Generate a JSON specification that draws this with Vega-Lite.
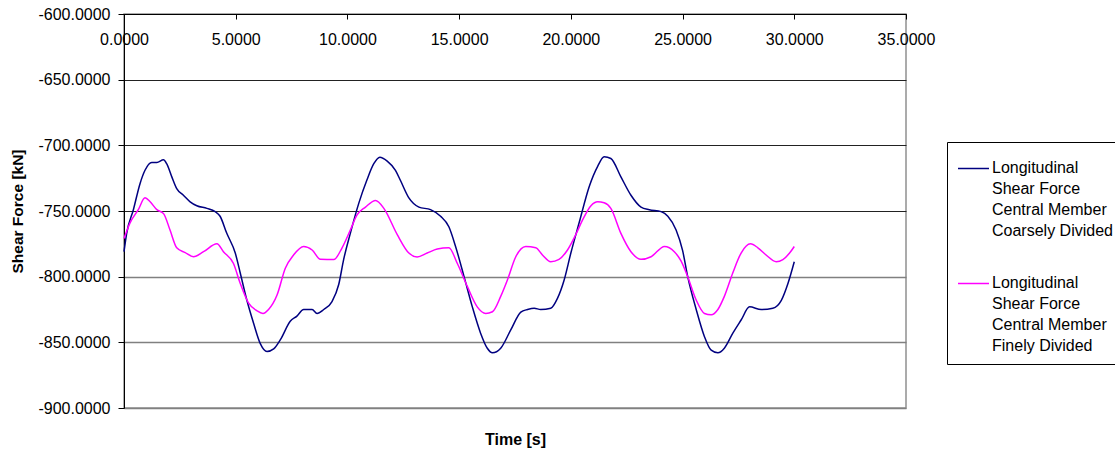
{
  "$schema": "https://vega.github.io/schema/vega-lite/v6.json",
  "width": 782,
  "height": 394,
  "autosize": "none",
  "padding": {"left": 124, "top": 14, "right": 209, "bottom": 41},
  "background": "white",
  "data": {
    "values": [
      {"t": 0, "v": -781, "series": "Coarsely Divided"},
      {"t": 0.12, "v": -767, "series": "Coarsely Divided"},
      {"t": 0.42, "v": -749, "series": "Coarsely Divided"},
      {"t": 0.72, "v": -729, "series": "Coarsely Divided"},
      {"t": 0.94, "v": -719, "series": "Coarsely Divided"},
      {"t": 1.24, "v": -713, "series": "Coarsely Divided"},
      {"t": 1.47, "v": -713, "series": "Coarsely Divided"},
      {"t": 1.77, "v": -711, "series": "Coarsely Divided"},
      {"t": 1.91, "v": -714, "series": "Coarsely Divided"},
      {"t": 2.14, "v": -724, "series": "Coarsely Divided"},
      {"t": 2.36, "v": -733, "series": "Coarsely Divided"},
      {"t": 2.66, "v": -738, "series": "Coarsely Divided"},
      {"t": 2.96, "v": -743, "series": "Coarsely Divided"},
      {"t": 3.26, "v": -746, "series": "Coarsely Divided"},
      {"t": 3.71, "v": -748, "series": "Coarsely Divided"},
      {"t": 4.08, "v": -750.5, "series": "Coarsely Divided"},
      {"t": 4.3, "v": -754, "series": "Coarsely Divided"},
      {"t": 4.6, "v": -767, "series": "Coarsely Divided"},
      {"t": 4.98, "v": -782, "series": "Coarsely Divided"},
      {"t": 5.2, "v": -797, "series": "Coarsely Divided"},
      {"t": 5.5, "v": -818, "series": "Coarsely Divided"},
      {"t": 5.8, "v": -835.5, "series": "Coarsely Divided"},
      {"t": 6.1, "v": -851, "series": "Coarsely Divided"},
      {"t": 6.4, "v": -857, "series": "Coarsely Divided"},
      {"t": 6.7, "v": -855, "series": "Coarsely Divided"},
      {"t": 7.0, "v": -848, "series": "Coarsely Divided"},
      {"t": 7.44, "v": -834, "series": "Coarsely Divided"},
      {"t": 7.74, "v": -830, "series": "Coarsely Divided"},
      {"t": 8.04, "v": -825, "series": "Coarsely Divided"},
      {"t": 8.42, "v": -825, "series": "Coarsely Divided"},
      {"t": 8.64, "v": -828, "series": "Coarsely Divided"},
      {"t": 8.94, "v": -825, "series": "Coarsely Divided"},
      {"t": 9.31, "v": -819, "series": "Coarsely Divided"},
      {"t": 9.61, "v": -806, "series": "Coarsely Divided"},
      {"t": 9.83, "v": -787, "series": "Coarsely Divided"},
      {"t": 10.13, "v": -767, "series": "Coarsely Divided"},
      {"t": 10.51, "v": -744, "series": "Coarsely Divided"},
      {"t": 10.88, "v": -726, "series": "Coarsely Divided"},
      {"t": 11.18, "v": -714, "series": "Coarsely Divided"},
      {"t": 11.45, "v": -709, "series": "Coarsely Divided"},
      {"t": 11.78, "v": -712, "series": "Coarsely Divided"},
      {"t": 12.15, "v": -719, "series": "Coarsely Divided"},
      {"t": 12.38, "v": -727, "series": "Coarsely Divided"},
      {"t": 12.75, "v": -740, "series": "Coarsely Divided"},
      {"t": 13.2, "v": -747, "series": "Coarsely Divided"},
      {"t": 13.72, "v": -749, "series": "Coarsely Divided"},
      {"t": 14.17, "v": -754, "series": "Coarsely Divided"},
      {"t": 14.54, "v": -762, "series": "Coarsely Divided"},
      {"t": 14.84, "v": -777, "series": "Coarsely Divided"},
      {"t": 15.22, "v": -800, "series": "Coarsely Divided"},
      {"t": 15.59, "v": -823, "series": "Coarsely Divided"},
      {"t": 15.96, "v": -843, "series": "Coarsely Divided"},
      {"t": 16.26, "v": -854.5, "series": "Coarsely Divided"},
      {"t": 16.49, "v": -858, "series": "Coarsely Divided"},
      {"t": 16.86, "v": -854.5, "series": "Coarsely Divided"},
      {"t": 17.31, "v": -840.6, "series": "Coarsely Divided"},
      {"t": 17.76, "v": -827, "series": "Coarsely Divided"},
      {"t": 18.06, "v": -825, "series": "Coarsely Divided"},
      {"t": 18.36, "v": -824, "series": "Coarsely Divided"},
      {"t": 18.65, "v": -825, "series": "Coarsely Divided"},
      {"t": 19.1, "v": -824, "series": "Coarsely Divided"},
      {"t": 19.4, "v": -816.5, "series": "Coarsely Divided"},
      {"t": 19.7, "v": -802.5, "series": "Coarsely Divided"},
      {"t": 20.0, "v": -782, "series": "Coarsely Divided"},
      {"t": 20.37, "v": -759, "series": "Coarsely Divided"},
      {"t": 20.82, "v": -731.5, "series": "Coarsely Divided"},
      {"t": 21.2, "v": -716, "series": "Coarsely Divided"},
      {"t": 21.49, "v": -708.7, "series": "Coarsely Divided"},
      {"t": 21.79, "v": -710, "series": "Coarsely Divided"},
      {"t": 22.24, "v": -724, "series": "Coarsely Divided"},
      {"t": 22.69, "v": -738, "series": "Coarsely Divided"},
      {"t": 23.14, "v": -747, "series": "Coarsely Divided"},
      {"t": 23.51, "v": -749, "series": "Coarsely Divided"},
      {"t": 24.04, "v": -750.5, "series": "Coarsely Divided"},
      {"t": 24.34, "v": -754, "series": "Coarsely Divided"},
      {"t": 24.71, "v": -764.5, "series": "Coarsely Divided"},
      {"t": 25.0, "v": -780, "series": "Coarsely Divided"},
      {"t": 25.23, "v": -800, "series": "Coarsely Divided"},
      {"t": 25.61, "v": -825, "series": "Coarsely Divided"},
      {"t": 25.98, "v": -845.7, "series": "Coarsely Divided"},
      {"t": 26.28, "v": -856, "series": "Coarsely Divided"},
      {"t": 26.58, "v": -858, "series": "Coarsely Divided"},
      {"t": 26.87, "v": -854.5, "series": "Coarsely Divided"},
      {"t": 27.25, "v": -843, "series": "Coarsely Divided"},
      {"t": 27.62, "v": -833, "series": "Coarsely Divided"},
      {"t": 28.0, "v": -823, "series": "Coarsely Divided"},
      {"t": 28.52, "v": -825, "series": "Coarsely Divided"},
      {"t": 29.04, "v": -824, "series": "Coarsely Divided"},
      {"t": 29.42, "v": -818, "series": "Coarsely Divided"},
      {"t": 29.72, "v": -805, "series": "Coarsely Divided"},
      {"t": 30.0, "v": -788.6, "series": "Coarsely Divided"},
      {"t": 0, "v": -771, "series": "Finely Divided"},
      {"t": 0.27, "v": -759, "series": "Finely Divided"},
      {"t": 0.64, "v": -749, "series": "Finely Divided"},
      {"t": 0.94, "v": -740, "series": "Finely Divided"},
      {"t": 1.17, "v": -743, "series": "Finely Divided"},
      {"t": 1.47, "v": -749, "series": "Finely Divided"},
      {"t": 1.77, "v": -752, "series": "Finely Divided"},
      {"t": 2.06, "v": -764.5, "series": "Finely Divided"},
      {"t": 2.36, "v": -778, "series": "Finely Divided"},
      {"t": 2.74, "v": -781.7, "series": "Finely Divided"},
      {"t": 3.11, "v": -784.8, "series": "Finely Divided"},
      {"t": 3.56, "v": -781, "series": "Finely Divided"},
      {"t": 4.16, "v": -775, "series": "Finely Divided"},
      {"t": 4.45, "v": -781, "series": "Finely Divided"},
      {"t": 4.9, "v": -790, "series": "Finely Divided"},
      {"t": 5.2, "v": -805, "series": "Finely Divided"},
      {"t": 5.57, "v": -820, "series": "Finely Divided"},
      {"t": 5.95, "v": -826, "series": "Finely Divided"},
      {"t": 6.22, "v": -828, "series": "Finely Divided"},
      {"t": 6.47, "v": -825, "series": "Finely Divided"},
      {"t": 6.85, "v": -814, "series": "Finely Divided"},
      {"t": 7.22, "v": -793.6, "series": "Finely Divided"},
      {"t": 7.59, "v": -783.5, "series": "Finely Divided"},
      {"t": 8.04, "v": -777, "series": "Finely Divided"},
      {"t": 8.42, "v": -779.7, "series": "Finely Divided"},
      {"t": 8.79, "v": -786.8, "series": "Finely Divided"},
      {"t": 9.39, "v": -787, "series": "Finely Divided"},
      {"t": 9.76, "v": -778, "series": "Finely Divided"},
      {"t": 10.13, "v": -764.5, "series": "Finely Divided"},
      {"t": 10.43, "v": -753, "series": "Finely Divided"},
      {"t": 10.81, "v": -747, "series": "Finely Divided"},
      {"t": 11.26, "v": -742, "series": "Finely Divided"},
      {"t": 11.63, "v": -748, "series": "Finely Divided"},
      {"t": 12.23, "v": -768, "series": "Finely Divided"},
      {"t": 12.75, "v": -782, "series": "Finely Divided"},
      {"t": 13.12, "v": -785, "series": "Finely Divided"},
      {"t": 13.57, "v": -782, "series": "Finely Divided"},
      {"t": 14.02, "v": -779, "series": "Finely Divided"},
      {"t": 14.54, "v": -778, "series": "Finely Divided"},
      {"t": 14.92, "v": -790, "series": "Finely Divided"},
      {"t": 15.37, "v": -807.6, "series": "Finely Divided"},
      {"t": 15.81, "v": -823, "series": "Finely Divided"},
      {"t": 16.19, "v": -828, "series": "Finely Divided"},
      {"t": 16.49, "v": -826.7, "series": "Finely Divided"},
      {"t": 16.86, "v": -815, "series": "Finely Divided"},
      {"t": 17.16, "v": -802.5, "series": "Finely Divided"},
      {"t": 17.53, "v": -785, "series": "Finely Divided"},
      {"t": 17.98, "v": -777, "series": "Finely Divided"},
      {"t": 18.43, "v": -778, "series": "Finely Divided"},
      {"t": 18.73, "v": -783.5, "series": "Finely Divided"},
      {"t": 19.1, "v": -788.6, "series": "Finely Divided"},
      {"t": 19.47, "v": -786.8, "series": "Finely Divided"},
      {"t": 19.85, "v": -779.7, "series": "Finely Divided"},
      {"t": 20.22, "v": -768, "series": "Finely Divided"},
      {"t": 20.52, "v": -757, "series": "Finely Divided"},
      {"t": 20.9, "v": -746, "series": "Finely Divided"},
      {"t": 21.2, "v": -743, "series": "Finely Divided"},
      {"t": 21.49, "v": -743.7, "series": "Finely Divided"},
      {"t": 21.79, "v": -748, "series": "Finely Divided"},
      {"t": 22.24, "v": -767, "series": "Finely Divided"},
      {"t": 22.69, "v": -781, "series": "Finely Divided"},
      {"t": 23.14, "v": -786.8, "series": "Finely Divided"},
      {"t": 23.59, "v": -784.8, "series": "Finely Divided"},
      {"t": 24.19, "v": -777, "series": "Finely Divided"},
      {"t": 24.63, "v": -781, "series": "Finely Divided"},
      {"t": 24.93, "v": -788, "series": "Finely Divided"},
      {"t": 25.23, "v": -800, "series": "Finely Divided"},
      {"t": 25.61, "v": -817.8, "series": "Finely Divided"},
      {"t": 25.98, "v": -828, "series": "Finely Divided"},
      {"t": 26.28, "v": -829, "series": "Finely Divided"},
      {"t": 26.58, "v": -825, "series": "Finely Divided"},
      {"t": 26.87, "v": -815, "series": "Finely Divided"},
      {"t": 27.25, "v": -797, "series": "Finely Divided"},
      {"t": 27.62, "v": -782, "series": "Finely Divided"},
      {"t": 28.04, "v": -775, "series": "Finely Divided"},
      {"t": 28.37, "v": -778, "series": "Finely Divided"},
      {"t": 28.74, "v": -783.5, "series": "Finely Divided"},
      {"t": 29.19, "v": -788.6, "series": "Finely Divided"},
      {"t": 29.49, "v": -787, "series": "Finely Divided"},
      {"t": 29.79, "v": -782, "series": "Finely Divided"},
      {"t": 30.0, "v": -777, "series": "Finely Divided"}
    ]
  },
  "mark": {"type": "line", "strokeWidth": 1.5, "interpolate": "monotone"},
  "encoding": {
    "x": {
      "field": "t",
      "type": "quantitative",
      "scale": {"domain": [0, 35], "nice": false, "zero": false},
      "axis": {
        "orient": "bottom",
        "offset": -394,
        "values": [0, 5, 10, 15, 20, 25, 30, 35],
        "format": ".4f",
        "grid": false,
        "tickSize": 5,
        "labelPadding": 12,
        "title": "Time [s]",
        "titleY": 425,
        "titleBaseline": "middle",
        "titleFontSize": 16
      }
    },
    "y": {
      "field": "v",
      "type": "quantitative",
      "scale": {"domain": [-900, -600], "nice": false, "zero": false},
      "axis": {
        "values": [-900, -850, -800, -750, -700, -650, -600],
        "format": ".4f",
        "grid": true,
        "gridColor": {"condition": {"test": "datum.value <= -800", "value": "#808080"}, "value": "#222222"},
        "gridWidth": {"condition": {"test": "datum.value <= -800", "value": 1.5}, "value": 1},
        "tickSize": 6,
        "labelPadding": 8,
        "title": "Shear Force [kN]",
        "titleFontSize": 15.5,
        "titlePadding": 12
      }
    },
    "color": {
      "field": "series",
      "type": "nominal",
      "scale": {"domain": ["Coarsely Divided", "Finely Divided"], "range": ["#000080", "#FF00FF"]},
      "legend": {
        "orient": "none",
        "legendX": 823,
        "legendY": 128,
        "title": null,
        "padding": 10,
        "strokeColor": "#000000",
        "fillColor": "#ffffff",
        "symbolType": "stroke",
        "symbolSize": 961,
        "symbolStrokeWidth": 1.5,
        "labelFontSize": 16,
        "labelFont": "Liberation Sans",
        "labelColor": "#000000",
        "labelLimit": 500,
        "labelOffset": 2,
        "labelBaseline": "top",
        "rowPadding": 28,
        "labelExpr": "['Longitudinal', 'Shear Force', 'Central Member', datum.label]",
        "encode": {"labels": {"update": {"dy": {"value": -9}}}}
      }
    }
  },
  "config": {
    "locale": {"number": {"decimal": ".", "thousands": ",", "grouping": [3], "currency": ["$", ""], "minus": "-"}},
    "font": "Liberation Sans",
    "view": {"stroke": "#909090", "strokeWidth": 1.5},
    "style": {"guide-label": {"lineHeight": 21}},
    "axis": {
      "labelFont": "Liberation Sans",
      "labelFontSize": 16,
      "labelColor": "#000000",
      "titleFont": "Liberation Sans",
      "titleFontWeight": "bold",
      "titleColor": "#000000",
      "domainColor": "#000000",
      "domainWidth": 1,
      "tickColor": "#000000",
      "labelFlush": false,
      "labelOverlap": false
    }
  }
}
